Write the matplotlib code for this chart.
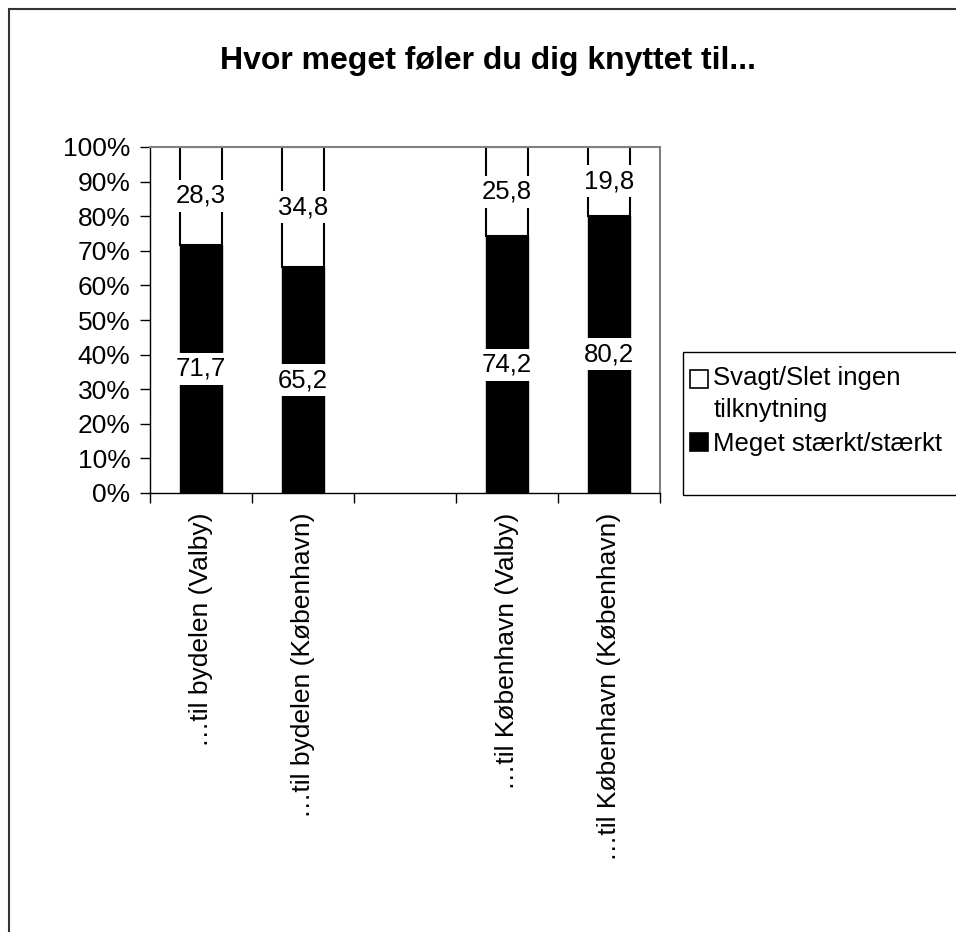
import numpy as np
import matplotlib
matplotlib.use("Agg")
import matplotlib.pyplot as plt
from matplotlib.patches import Rectangle
from matplotlib.legend_handler import HandlerPatch

plt.rcParams['font.family'] = ['Liberation Sans', 'DejaVu Sans']

# data
categories = ["…til bydelen (Valby)", "…til bydelen (København)", "",
              "…til København (Valby)", "…til København (København)"]
strong = [71.7, 65.2, np.nan, 74.2, 80.2]
weak = [28.3, 34.8, np.nan, 25.8, 19.8]
strong_labels = ["71,7", "65,2", "", "74,2", "80,2"]
weak_labels = ["28,3", "34,8", "", "25,8", "19,8"]

W, H = 956, 932
fig = plt.figure(figsize=(W / 100, H / 100), dpi=100)

# outer chart border
fig.patches.append(Rectangle((9 / W, -0.05), 1.1, 1 - 9.5 / H + 0.05,
                             transform=fig.transFigure, fill=False,
                             edgecolor='#333333', linewidth=1.5))

ax = fig.add_axes([150 / W, 1 - 493 / H, 510 / W, 346 / H])
x = np.arange(len(categories))
s = np.array(strong)
w = np.array(weak)
tot = s + w
sp = s / tot * 100
wp = w / tot * 100

b1 = ax.bar(x, sp, width=0.42, color='black', edgecolor='black', linewidth=1,
            zorder=2)
b2 = ax.bar(x, wp, bottom=sp, width=0.42, color='white', edgecolor='black',
            linewidth=1.5, zorder=2)

for i in range(len(x)):
    if np.isnan(sp[i]):
        continue
    ax.text(x[i], sp[i] / 2, strong_labels[i], ha='center', va='center',
            fontsize=18.5, zorder=3,
            bbox=dict(boxstyle='square,pad=0.16', fc='white', ec='none'))
    ax.text(x[i], sp[i] + wp[i] / 2, weak_labels[i], ha='center', va='center',
            fontsize=18.5, zorder=3,
            bbox=dict(boxstyle='square,pad=0.16', fc='white', ec='none'))

ax.set_xlim(-0.5, len(x) - 0.5)
ax.set_ylim(0, 100)
ax.set_yticks(np.arange(0, 101, 10))
ax.set_yticklabels([f"{v}%" for v in range(0, 101, 10)], fontsize=19)
ax.tick_params(axis='y', direction='out', length=7, width=1, pad=7)

ax.set_xticks(x)
ax.set_xticklabels(categories, rotation=90, fontsize=19, va='top', ha='center')
ax.set_xticks(np.arange(-0.5, len(x)), minor=True)
ax.tick_params(axis='x', which='major', length=0, pad=14)
ax.tick_params(axis='x', which='minor', direction='out', length=7, width=1)

for side in ['top', 'right']:
    ax.spines[side].set_color('#808080')
    ax.spines[side].set_linewidth(1.5)
for side in ['left', 'bottom']:
    ax.spines[side].set_color('black')
    ax.spines[side].set_linewidth(1)

# title
fig.text(488 / W, 1 - 61 / H, "Hvor meget føler du dig knyttet til...",
         ha='center', va='center', fontsize=23, fontweight='bold')

# legend box
fig.patches.append(Rectangle((683 / W, 1 - 495 / H), 0.4, 143 / H,
                             transform=fig.transFigure, fill=False,
                             edgecolor='black', linewidth=1))


def top_square(legend, orig_handle, xdescent, ydescent, width, height, fontsize):
    # put the marker next to the first line of a two-line label
    return Rectangle((-xdescent, -ydescent + 0.6 * fontsize), width, height)


h_weak = Rectangle((0, 0), 1, 1, fc='white', ec='black', lw=1.2)
h_strong = Rectangle((0, 0), 1, 1, fc='black', ec='black', lw=1.2)
leg = fig.legend([h_weak, h_strong],
                 ['Svagt/Slet ingen\ntilknytning', 'Meget stærkt/stærkt'],
                 handler_map={h_weak: HandlerPatch(patch_func=top_square)},
                 loc='upper left', bbox_to_anchor=(690 / W, 1 - 366 / H),
                 frameon=False, fontsize=18.5, handlelength=0.7, handleheight=0.7,
                 handletextpad=0.2, labelspacing=0.4, borderpad=0, borderaxespad=0)
for t in leg.get_texts():
    t.set_linespacing(1.4)

fig.savefig("out.png", dpi=100)
